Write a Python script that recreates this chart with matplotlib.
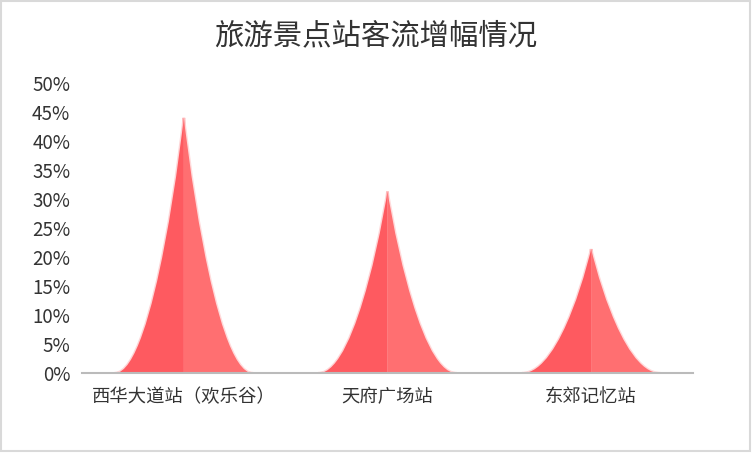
import numpy as np
import matplotlib
matplotlib.use('Agg')
import matplotlib.pyplot as plt
from matplotlib.path import Path
from matplotlib.patches import PathPatch, Rectangle
from matplotlib.ticker import FuncFormatter

plt.rcParams['font.family'] = ['Noto Sans CJK SC', 'DejaVu Sans']

stations = ['西华大道站（欢乐谷）', '天府广场站', '东郊记忆站']
growth = [0.44, 0.313, 0.214]
y_ticks = [0.0, 0.05, 0.10, 0.15, 0.20, 0.25, 0.30, 0.35, 0.40, 0.45, 0.50]

left_color = '#fe5a60'
right_color = '#ff6f71'
text_color = '#333333'

fig = plt.figure(figsize=(7.52, 4.65), dpi=100)
ax = fig.add_axes([82 / 752, (465 - 373.3) / 465, (693 - 82) / 752, (373.3 - 83) / 465])

half_w = 0.34
# control point of the peak curve (fraction of half width)
k = 0.41


def half_peak(cx, h, side):
    # side = -1 left half, +1 right half
    verts = [
        (cx, h),
        (cx, h),
        (cx + side * k * half_w, 0),
        (cx + side * half_w, 0),
        (cx, 0),
        (cx, h),
    ]
    codes = [Path.MOVETO, Path.CURVE4, Path.CURVE4, Path.CURVE4,
             Path.LINETO, Path.CLOSEPOLY]
    return Path(verts, codes)


for i, v in enumerate(growth):
    # faint halo round the peak
    for side, c in [(-1, left_color), (1, right_color)]:
        ax.add_patch(PathPatch(half_peak(i, v, side), facecolor='none',
                               edgecolor=c, linewidth=2.0, alpha=0.25, zorder=1))
        ax.add_patch(PathPatch(half_peak(i, v, side), facecolor=c,
                               edgecolor='none', zorder=2))

ax.set_xlim(-0.5, len(stations) - 0.5)
ax.set_ylim(0, 0.5)
ax.set_xticks(range(len(stations)))
ax.set_xticklabels(stations, fontsize=13.2, color=text_color)
ax.set_yticks(y_ticks)
ax.yaxis.set_major_formatter(FuncFormatter(lambda v, p: f'{v * 100:.0f}%'))
ax.tick_params(axis='y', length=0, pad=8.5, labelsize=13.5, labelcolor=text_color)
ax.tick_params(axis='x', length=0, pad=10.5)

for s in ['top', 'right', 'left']:
    ax.spines[s].set_visible(False)
ax.spines['bottom'].set_color('#bbbbbb')
ax.spines['bottom'].set_linewidth(1.5)
ax.spines['bottom'].set_zorder(3)

fig.text(0.5, 1 - 36 / 465, '旅游景点站客流增幅情况', ha='center', va='center',
         fontsize=21.2, color=text_color)

# outer frame
fig.patches.append(Rectangle((1 / 752, (465 - 451) / 465), 749 / 752, 450 / 465,
                             transform=fig.transFigure, fill=False,
                             edgecolor='#d9d9d9', linewidth=1.5))

fig.savefig('out.png', dpi=100)
